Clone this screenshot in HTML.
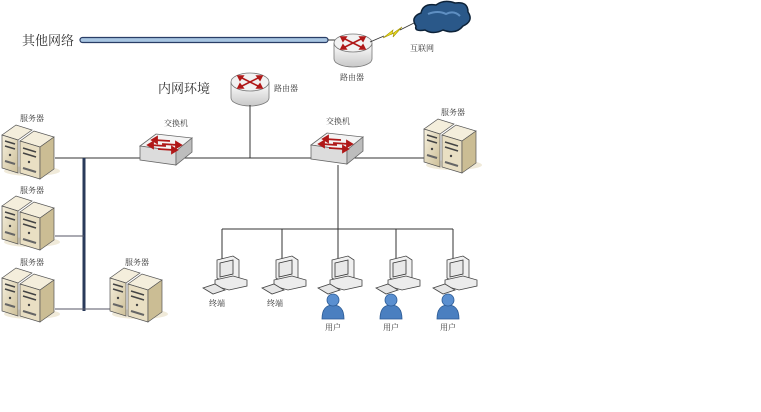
<!DOCTYPE html>
<html><head><meta charset="utf-8"><style>
html,body{margin:0;padding:0;background:#fff;width:761px;height:412px;overflow:hidden}
text{font-family:"Liberation Serif","Noto Serif CJK SC",serif;fill:#333}
</style></head><body>
<svg width="761" height="412" viewBox="0 0 761 412" xmlns="http://www.w3.org/2000/svg">
<defs>
<linearGradient id="tan" x1="0" y1="0" x2="1" y2="1"><stop offset="0" stop-color="#f6f0de"/><stop offset="1" stop-color="#cdbf98"/></linearGradient>
<linearGradient id="rt" x1="0" y1="0" x2="0" y2="1"><stop offset="0" stop-color="#ffffff"/><stop offset="1" stop-color="#c8c8c8"/></linearGradient>
<g id="srv">
  <ellipse cx="30" cy="50" rx="28" ry="5" fill="#e6dcc0" opacity="0.6"/>
  <polygon points="0,14 14,4 30,9 16,19" fill="#f4eedc" stroke="#555" stroke-width="0.7"/>
  <polygon points="0,14 16,19 16,52 0,47" fill="url(#tan)" stroke="#555" stroke-width="0.7"/>
  <polygon points="18,20 32,10 52,16 38,26" fill="#f4eedc" stroke="#555" stroke-width="0.7"/>
  <polygon points="18,20 38,26 38,58 18,52" fill="#e9dfc3" stroke="#555" stroke-width="0.7"/>
  <polygon points="38,26 52,16 52,48 38,58" fill="#cbbd94" stroke="#555" stroke-width="0.7"/>
  <line x1="3" y1="20" x2="13" y2="23" stroke="#444" stroke-width="1.5"/>
  <line x1="3" y1="25" x2="13" y2="28" stroke="#444" stroke-width="1.5"/>
  <circle cx="8" cy="34" r="1.2" fill="#444"/>
  <line x1="3" y1="40" x2="13" y2="43" stroke="#666" stroke-width="2"/>
  <line x1="21" y1="27" x2="34" y2="31" stroke="#444" stroke-width="1.5"/>
  <line x1="21" y1="32" x2="34" y2="36" stroke="#444" stroke-width="1.5"/>
  <circle cx="27" cy="41" r="1.2" fill="#444"/>
  <line x1="21" y1="47" x2="34" y2="51" stroke="#666" stroke-width="2"/>
</g>
<g id="sw">
  <polygon points="0,12 16,0 52,4 36,17" fill="#f4f4f4" stroke="#666" stroke-width="0.8"/>
  <polygon points="0,12 36,17 36,31 0,26" fill="#dcdcdc" stroke="#666" stroke-width="0.8"/>
  <polygon points="36,17 52,4 52,18 36,31" fill="#bdbdbd" stroke="#666" stroke-width="0.8"/>
  <g stroke="#b01818" stroke-width="1.8" fill="#b01818">
    <line x1="14" y1="6" x2="30" y2="7"/><polygon points="12,6 17,3 17,9"/>
    <line x1="22" y1="10" x2="38" y2="11"/><polygon points="41,11 36,8 36,14"/>
    <line x1="10" y1="11" x2="26" y2="12"/><polygon points="8,11 13,8 13,14"/>
    <line x1="18" y1="15" x2="34" y2="16"/><polygon points="37,16 32,13 32,19"/>
  </g>
</g>
<g id="rtr">
  <path d="M0,10 L0,26 A19,8 0 0 0 38,26 L38,10" fill="url(#rt)" stroke="#777" stroke-width="0.8"/>
  <ellipse cx="19" cy="10" rx="19" ry="9" fill="#f2f2f2" stroke="#777" stroke-width="0.8"/>
  <g stroke="#b01818" stroke-width="1.6" fill="#b01818">
    <line x1="9" y1="5" x2="29" y2="15"/><line x1="9" y1="15" x2="29" y2="5"/>
    <polygon points="7,4 12,4 9,8"/><polygon points="31,16 26,16 29,12"/>
    <polygon points="7,16 12,16 9,12"/><polygon points="31,4 26,4 29,8"/>
  </g>
</g>
<g id="pc">
  <polygon points="6,4 22,0 28,4 28,22 12,26 6,22" fill="#f0f0f0" stroke="#444" stroke-width="0.8"/>
  <polygon points="9,7 22,4 22,18 9,21" fill="#e8e8e8" stroke="#333" stroke-width="0.8"/>
  <polygon points="4,24 22,20 36,24 36,30 18,34 4,30" fill="#ececec" stroke="#444" stroke-width="0.8"/>
  <polygon points="-8,32 4,28 14,34 2,38" fill="#e6e6e6" stroke="#444" stroke-width="0.8"/>
</g>
<g id="usr">
  <path d="M-11,24 Q-11,10 0,10 Q11,10 11,24 Z" fill="#4a7fc0" stroke="#2b5a94" stroke-width="0.8"/>
  <circle cx="0" cy="5" r="6" fill="#5a8fd0" stroke="#2b5a94" stroke-width="0.8"/>
</g>
</defs>

<text x="22" y="45" font-size="13">其他网络</text>
<rect x="80" y="37.5" width="248" height="5" rx="2.5" fill="#a9c6e2" stroke="#2a3e66" stroke-width="1.2"/>
<line x1="328" y1="40" x2="336" y2="40" stroke="#333"/>
<use href="#rtr" x="334" y="33"/>
<text x="340" y="80" font-size="8">路由器</text>
<line x1="370" y1="42" x2="384" y2="36" stroke="#333" stroke-width="0.8"/>
<polygon points="383,38 393,30 392,34 402,27 393,37 394,33" fill="#f0e020" stroke="#a09000" stroke-width="0.6"/>
<line x1="400" y1="30" x2="416" y2="22" stroke="#333" stroke-width="0.8"/>
<path d="M416,26 Q410,17 421,13 Q423,3 436,5 Q444,-1 455,3 Q468,1 468,12 Q474,21 463,26 Q456,35 443,30 Q433,35 425,30 Q414,32 416,26 Z" fill="#2a5889" stroke="#0d2238" stroke-width="1.5"/>
<path d="M428,14 Q438,10 446,14 Q454,10 460,16" fill="none" stroke="#5f8fc2" stroke-width="2"/>
<text x="410" y="51" font-size="8">互联网</text>

<text x="158" y="93" font-size="13">内网环境</text>
<use href="#rtr" x="231" y="72"/>
<text x="274" y="91" font-size="8">路由器</text>

<line x1="250" y1="105" x2="250" y2="158" stroke="#333"/>
<line x1="55" y1="158" x2="424" y2="158" stroke="#333"/>
<line x1="84" y1="158" x2="84" y2="311" stroke="#2a3a5a" stroke-width="3"/>
<line x1="55" y1="236" x2="84" y2="236" stroke="#556"/>
<line x1="55" y1="309" x2="112" y2="309" stroke="#556"/>
<line x1="338" y1="165" x2="338" y2="229" stroke="#333"/>
<line x1="222" y1="229" x2="453" y2="229" stroke="#333"/>
<g stroke="#333">
<line x1="222" y1="229" x2="222" y2="262"/>
<line x1="282" y1="229" x2="282" y2="262"/>
<line x1="338" y1="229" x2="338" y2="262"/>
<line x1="396" y1="229" x2="396" y2="262"/>
<line x1="453" y1="229" x2="453" y2="262"/>
</g>

<text x="164" y="126" font-size="8">交换机</text>
<use href="#sw" x="140" y="134"/>
<text x="326" y="124" font-size="8">交换机</text>
<use href="#sw" x="311" y="133"/>

<text x="20" y="121" font-size="8">服务器</text>
<use href="#srv" x="2" y="121"/>
<text x="20" y="193" font-size="8">服务器</text>
<use href="#srv" x="2" y="192"/>
<text x="20" y="265" font-size="8">服务器</text>
<use href="#srv" x="2" y="264"/>
<text x="125" y="265" font-size="8">服务器</text>
<use href="#srv" x="110" y="264"/>
<text x="441" y="115" font-size="8">服务器</text>
<use href="#srv" x="424" y="115"/>

<use href="#pc" x="211" y="256"/>
<use href="#pc" x="270" y="256"/>
<use href="#pc" x="326" y="256"/>
<use href="#pc" x="384" y="256"/>
<use href="#pc" x="441" y="256"/>
<text x="209" y="306" font-size="8">终端</text>
<text x="267" y="306" font-size="8">终端</text>
<use href="#usr" x="333" y="295"/>
<use href="#usr" x="391" y="295"/>
<use href="#usr" x="448" y="295"/>
<text x="325" y="330" font-size="8">用户</text>
<text x="383" y="330" font-size="8">用户</text>
<text x="440" y="330" font-size="8">用户</text>
</svg>
</body></html>
